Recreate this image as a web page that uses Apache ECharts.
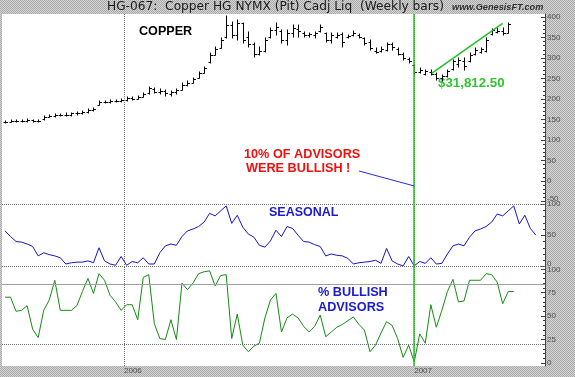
<!DOCTYPE html>
<html><head><meta charset="utf-8">
<script src="https://cdn.jsdelivr.net/npm/echarts@6/dist/echarts.min.js"></script>
<style>html,body{margin:0;padding:0;background:#c4c4c4;} #c{width:575px;height:377px;}</style>
</head><body><div id="c"></div>
<script>
// ---- data (weekly bars, index = week number) ----
const opens  = [144,145,146,147,146,148,147,150,157,158,161,162,160,165,166,169,173,186,192,193,195,196,198,203,200,206,214,224,218,220,213,216,222,234,240,251,264,290,308,325,350,380,355,385,350,335,310,318,350,368,365,345,360,370,360,356,355,365,361,345,352,358,350,357,355,348,340,318,317,320,335,322,310,298,282,267,262,265,262,250,256,272,285,292,292,310,315,318,358,363,365,362];
const highs  = [147,148,149,148,150,149,149,159,161,163,164,165,166,168,170,175,178,194,196,197,198,200,205,205,207,214,230,228,224,222,219,225,238,245,251,266,278,312,327,349,402,388,393,385,363,337,327,349,373,385,368,368,380,380,363,361,363,380,361,361,361,361,356,366,359,349,344,324,327,337,337,324,312,300,283,276,271,271,263,259,271,295,300,300,312,324,324,349,371,373,373,385];
const lows   = [142,143,144,143,145,144,143,149,155,156,158,158,159,162,164,167,171,185,189,190,192,193,196,198,199,204,212,215,212,208,207,212,221,231,239,250,264,288,307,325,349,349,344,337,327,302,307,315,349,356,337,332,351,351,351,351,349,363,339,337,349,327,349,354,349,332,320,312,315,317,320,307,295,288,259,263,259,259,246,244,254,271,278,271,290,307,312,315,356,361,356,361];
const closes = [145,146,147,146,148,147,146,157,158,161,162,160,165,166,169,173,176,192,193,195,196,198,203,200,205,212,226,218,220,214,216,222,234,240,248,263,275,308,322,345,380,355,385,345,335,310,318,345,368,375,345,360,372,365,356,358,360,375,345,355,357,340,354,362,352,336,325,315,322,333,326,310,300,292,266,270,268,262,250,256,268,292,296,280,308,320,322,345,368,366,360,382];
const seasonal = [57,48,40,39,36,32,17,22,19,17,14,4,6,7,7,9,6,30,9,4,2,16,2,8,6,14,4,4,22,33,36,34,48,57,60,64,71,85,81,89,97,69,82,63,52,47,34,31,41,58,48,64,
                  61,50,40,39,35,32,17,20,18,17,13,4,6,7,8,10,5,29,9,4,1,16,1,8,5,14,4,5,20,33,36,33,47,57,60,64,71,84,81,89,97,68,82,61,50];
const bullish = [70,70,55,56,61,36,27,56,67,88,56,56,56,61,76,90,74,95,88,72,65,56,62,62,46,91,94,42,26,25,46,25,85,78,85,95,97,98,82,93,94,26,52,19,12,18,21,48,67,74,33,48,52,48,39,33,39,51,28,33,38,41,45,49,41,35,12,19,32,44,40,26,6,19,1,31,21,62,38,56,76,89,65,66,88,88,88,95,94,86,63,76,76];
const yearTickPos = [21.52, 74];
const yearLabels = ['2006', '2007'];
const priceTicks = [-50,0,50,100,150,200,250,300,350,400];
const seasonalTicks = [0,50,100];
const bullishTicks = [0,25,50,75,100];
const bullishLevels = [84, 20];
const seasonalLevels = [100, 0];
const trendStart = [77.16, 262.7], trendEnd = [89.98, 384.6];
const pointerStart = [64.0, 24.4], pointerEnd = [74, -12.2];
const signalWeek = 74;

// ---- stipple background ----
(function(){
  const cv = document.createElement('canvas'); cv.width = 2; cv.height = 2;
  const g = cv.getContext('2d');
  g.fillStyle = '#d6d6d6'; g.fillRect(0,0,2,2);
  g.fillStyle = '#a8a8a8'; g.fillRect(0,0,1,1); g.fillRect(1,1,1,1);
  document.getElementById('c').style.backgroundImage = 'url(' + cv.toDataURL() + ')';
})();

function range(a, b, s){ const r=[]; for(let v=a; v<=b+1e-9; v+=s) r.push(v); return r; }

const FONT = 'Liberation Sans';
const XMIN = -0.5425, XMAX = 97.65;
const PLOT_W = 543;
const grids = [
  {left:2, right:30, top:14, height:189},
  {left:2, right:30, top:203, height:64},
  {left:2, right:30, top:267, height:99}
];
grids.forEach(g => { g.show = true; g.backgroundColor = '#ffffff'; g.borderWidth = 0; });

function xAx(i, showLabels){
  return {
    gridIndex: i, type: 'value', min: XMIN, max: XMAX,
    axisLine: {show:false, onZero:false}, axisTick: {show:false}, splitLine: {show:false},
    axisLabel: showLabels ? {
      show: true, customValues: yearTickPos, align: 'left', margin: 1,
      fontSize: 8, fontFamily: FONT, color: '#505050',
      formatter: v => { const k = yearTickPos.findIndex(p => Math.abs(p - v) < 0.01); return k >= 0 ? yearLabels[k] : ''; }
    } : {show:false}
  };
}
function yMain(i, min, max, ticks, richFor){
  return {
    gridIndex: i, type: 'value', position: 'right', min, max,
    axisLine: {show:true, onZero:false, lineStyle:{color:'#404040', width:1}},
    axisTick: {show:true, inside:true, length:4, customValues: ticks, lineStyle:{color:'#404040'}},
    splitLine: {show:false},
    axisLabel: {
      show: true, customValues: ticks, margin: 2, fontSize: 8, fontFamily: FONT, color: '#505050',
      formatter: v => richFor && richFor[v] ? '{' + richFor[v] + '|' + v + '}' : String(v),
      rich: { up: {padding:[0,0,5,0], fontSize:8, fontFamily:FONT, color:'#505050'},
              dn: {padding:[2,0,0,0], fontSize:8, fontFamily:FONT, color:'#505050'} }
    }
  };
}
// minor-tick axis: placed on the left slot, then shifted onto the right edge
function yMinor(i, min, max, ticks){
  return {
    gridIndex: i, type: 'value', position: 'left', offset: -PLOT_W, min, max,
    axisLine: {show:false, onZero:false}, splitLine: {show:false}, axisLabel: {show:false},
    axisTick: {show:true, inside:false, length:2, customValues: ticks, lineStyle:{color:'#404040'}}
  };
}

const gridLineStyle = {type:'dotted', color:'#707070', width:1};
const greenVert = {lineStyle:{color:'#22c322', width:1.5, type:'solid'}};
function vertMarks(){
  return yearTickPos.map(p => ({xAxis: p, lineStyle: gridLineStyle}))
    .concat([Object.assign({xAxis: signalWeek}, greenVert)]);
}
const mlBase = {symbol:['none','none'], silent:true, animation:false, label:{show:false}};

const ohlc = opens.map((o, i) => [i, o, highs[i], lows[i], closes[i]]);

const option = {
  animation: false,
  backgroundColor: 'transparent',
  grid: grids,
  xAxis: [xAx(0,false), xAx(1,false), xAx(2,true)],
  yAxis: [
    yMain(0, -53.7, 407.3, priceTicks, {'-50':'up'}),
    yMain(1, -0.8, 101.6, seasonalTicks, {'0':'up'}),
    yMain(2, -3.19, 102.1, bullishTicks, {'100':'dn'}),
    yMinor(0, -53.7, 407.3, range(-50, 400, 10)),
    yMinor(1, -0.8, 101.6, range(0, 100, 10)),
    yMinor(2, -3.19, 102.1, range(0, 100, 5))
  ],
  series: [
    {
      type: 'line', xAxisIndex: 0, yAxisIndex: 0, data: closes.map((c,i)=>[i,c]),
      showSymbol: false, lineStyle: {opacity: 0}, silent: true, z: 1,
      markLine: Object.assign({}, mlBase, {
        data: vertMarks().concat([
          [{coord: trendStart, lineStyle:{color:'#22c322', width:1.5, type:'solid'}}, {coord: trendEnd}],
          [{coord: pointerStart, lineStyle:{color:'#2a2ae0', width:1, type:'solid'}}, {coord: pointerEnd}]
        ])
      })
    },
    {
      type: 'custom', xAxisIndex: 0, yAxisIndex: 0, data: ohlc, z: 3, silent: true,
      renderItem: function(params, api){
        const x = api.value(0);
        const o = api.coord([x, api.value(1)]);
        const h = api.coord([x, api.value(2)]);
        const l = api.coord([x, api.value(3)]);
        const c = api.coord([x, api.value(4)]);
        const px = Math.round(o[0]) + 0.5;
        const st = {stroke:'#000000', lineWidth:1};
        return {type:'group', children:[
          {type:'line', shape:{x1:px, y1:Math.round(h[1])-0.5, x2:px, y2:Math.round(l[1])+0.5}, style:st},
          {type:'line', shape:{x1:px-2, y1:Math.round(o[1])+0.5, x2:px, y2:Math.round(o[1])+0.5}, style:st},
          {type:'line', shape:{x1:px, y1:Math.round(c[1])+0.5, x2:px+2.5, y2:Math.round(c[1])+0.5}, style:st}
        ]};
      }
    },
    {
      type: 'line', xAxisIndex: 1, yAxisIndex: 1, data: seasonal.map((v,i)=>[i,v]),
      showSymbol: false, lineStyle: {color:'#1414cc', width:1}, silent: true,
      markLine: Object.assign({}, mlBase, {
        data: seasonalLevels.map(v => ({yAxis: v, lineStyle: gridLineStyle})).concat(vertMarks())
      })
    },
    {
      type: 'line', xAxisIndex: 2, yAxisIndex: 2, data: bullish.map((v,i)=>[i,v]),
      showSymbol: false, lineStyle: {color:'#148c14', width:1}, silent: true,
      markLine: Object.assign({}, mlBase, {
        data: [
          {yAxis: bullishLevels[0], lineStyle:{type:'solid', color:'#a0a0a0', width:1}},
          {yAxis: bullishLevels[1], lineStyle: gridLineStyle}
        ].concat(vertMarks())
      })
    }
  ],
  graphic: [
    {type:'text', x:107, y:7, style:{text:'HG-067:  Copper HG NYMX (Pit) Cadj Liq  (Weekly bars)', font:'12.2px "DejaVu Sans"', fill:'#1a1a1a', verticalAlign:'middle'}},
    {type:'text', x:452, y:7, style:{text:'www.GenesisFT.com', font:'italic bold 9.2px "Liberation Sans"', fill:'#303030', verticalAlign:'middle'}},
    {type:'text', x:139, y:32, style:{text:'COPPER', font:'bold 12.6px "Liberation Sans"', fill:'#000000', verticalAlign:'middle'}},
    {type:'text', x:438, y:83, style:{text:'$31,812.50', font:'bold 13.3px "Liberation Sans"', fill:'#2ec52e', verticalAlign:'middle'}},
    {type:'text', x:244, y:154, style:{text:'10% OF ADVISORS', font:'bold 12.7px "Liberation Sans"', fill:'#f01010', verticalAlign:'middle'}},
    {type:'text', x:246, y:168, style:{text:'WERE BULLISH !', font:'bold 12.7px "Liberation Sans"', fill:'#f01010', verticalAlign:'middle'}},
    {type:'text', x:269, y:213, style:{text:'SEASONAL', font:'bold 12.5px "Liberation Sans"', fill:'#1a1ad0', verticalAlign:'middle'}},
    {type:'text', x:318, y:292, style:{text:'% BULLISH', font:'bold 12.7px "Liberation Sans"', fill:'#1a1ad0', verticalAlign:'middle'}},
    {type:'text', x:318, y:307, style:{text:'ADVISORS', font:'bold 12.7px "Liberation Sans"', fill:'#1a1ad0', verticalAlign:'middle'}}
  ]
};
const chart = echarts.init(document.getElementById('c'), null, {renderer:'canvas'});
chart.setOption(option);
</script></body></html>
